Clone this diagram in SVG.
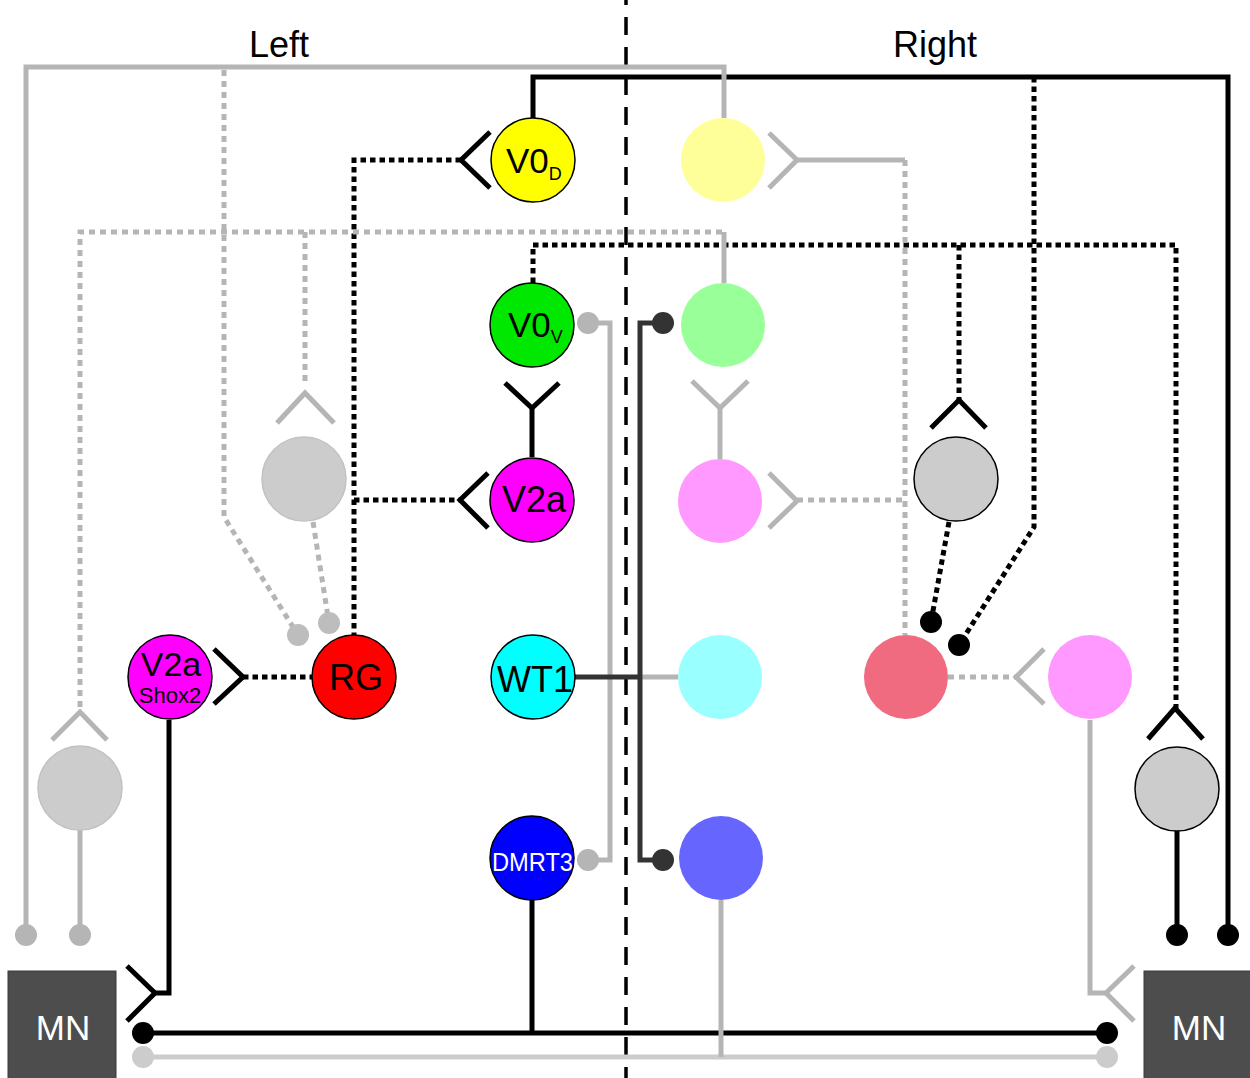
<svg xmlns="http://www.w3.org/2000/svg" width="1250" height="1078" viewBox="0 0 1250 1078">
  <style>
    .lbl { font-family: "Liberation Sans", Arial, sans-serif; fill: #000; }
    .side { font-size: 36px; text-anchor: middle; }
    .nm { font-size: 36px; text-anchor: middle; }
    .wt { fill: #fff; }
    .bk { stroke: #000; stroke-width: 5; fill: none; }
    .dk { stroke: #333; stroke-width: 5; fill: none; }
    .gr { stroke: #b5b5b5; stroke-width: 5; fill: none; }
    .lg { stroke: #cccccc; stroke-width: 5; fill: none; }
    .bkd { stroke: #000; stroke-width: 5; fill: none; stroke-dasharray: 5.5 4; }
    .grd { stroke: #b5b5b5; stroke-width: 5; fill: none; stroke-dasharray: 6 5; }
    .mid { stroke: #000; stroke-width: 3.5; fill: none; stroke-dasharray: 18 12; }
    .dotb { fill: #000; }
    .dotk { fill: #333; }
    .dotg { fill: #b5b5b5; }
    .dotl { fill: #cccccc; }
    .dotr { fill: #bdbdbd; }
    .cell { stroke: #000; stroke-width: 1.5; }
    .pale { stroke: none; }
    .mn { fill: #4d4d4d; stroke: #3a3a3a; stroke-width: 1; }
  </style>

  <!-- side headings and midline -->
  <text class="lbl side" x="279" y="57">Left</text>
  <text class="lbl side" x="935" y="57">Right</text>
  <line class="mid" x1="626" y1="-13" x2="626" y2="1078"/>

  <g id="connectors">
    <!-- light grey bottom bus -->
    <path class="lg" d="M143,1057 H1107"/>
    <circle class="dotl" cx="143" cy="1057" r="11"/>
    <circle class="dotl" cx="1107" cy="1057" r="11"/>

    <!-- black solid projections -->
    <path class="bk" d="M533,118 V77 H1228 V935"/>
    <circle class="dotb" cx="1228" cy="935" r="11"/>
    <path class="bk" d="M1177,830 V935"/>
    <circle class="dotb" cx="1177" cy="935" r="11"/>
    <path class="bk" d="M169,720 V993 H155"/>
    <polyline class="bk" points="127,966 155,993 127,1021"/>
    <path class="bk" d="M143,1033 H1107"/>
    <circle class="dotb" cx="143" cy="1033" r="11"/>
    <circle class="dotb" cx="1107" cy="1033" r="11"/>
    <path class="bk" d="M532,900 V1033"/>
    <polyline class="bk" points="505,383 532,408 559,383"/>
    <path class="bk" d="M532,408 V457"/>
    <polyline class="bk" points="490,132 461,160 490,188"/>
    <polyline class="bk" points="488,473 460,500 488,528"/>
    <polyline class="bk" points="214,649 243,677 214,704"/>
    <polyline class="bk" points="931,428 959,400 986,428"/>
    <polyline class="bk" points="1148,739 1175,708 1203,739"/>

    <!-- black dotted projections -->
    <path class="bkd" d="M461,160 H354 V635"/>
    <path class="bkd" d="M354,500 H460"/>
    <path class="bkd" d="M243,677 H312"/>
    <path class="bkd" d="M533,283 V245 H1176 V708"/>
    <path class="bkd" d="M959,245 V400"/>
    <path class="bkd" d="M1034,77 V527 L959,645"/>
    <circle class="dotb" cx="959" cy="645" r="11"/>
    <path class="bkd" d="M949,522 L931,622"/>
    <circle class="dotb" cx="931" cy="622" r="11"/>

    <!-- grey solid projections -->
    <path class="gr" d="M26,935 V67 H724 V118"/>
    <circle class="dotg" cx="26" cy="935" r="11"/>
    <path class="gr" d="M80,830 V935"/>
    <circle class="dotg" cx="80" cy="935" r="11"/>
    <polyline class="gr" points="52,740 80,712 107,740"/>
    <polyline class="gr" points="277,423 305,393 334,423"/>
    <path class="gr" d="M724,232 V283"/>
    <polyline class="gr" points="769,133 797,160 769,188"/>
    <path class="gr" d="M797,160 H905"/>
    <polyline class="gr" points="692,381 720,408 748,381"/>
    <path class="gr" d="M720,408 V459"/>
    <polyline class="gr" points="769,473 797,501 769,528"/>
    <polyline class="gr" points="1044,649 1016,677 1044,704"/>
    <path class="gr" d="M1090,720 V993 H1106"/>
    <polyline class="gr" points="1134,966 1106,993 1134,1021"/>
    <path class="gr" d="M588,323 H610 V860 H588"/>
    <circle class="dotg" cx="588" cy="323" r="11"/>
    <circle class="dotg" cx="588" cy="860" r="11"/>
    <path class="gr" d="M640,677 H678"/>
    <path class="gr" d="M721,900 V1057"/>

    <!-- grey dotted projections -->
    <path class="grd" d="M224,70 V517 L298,635"/>
    <circle class="dotr" cx="298" cy="635" r="11"/>
    <path class="grd" d="M313,522 L329,623"/>
    <circle class="dotr" cx="329" cy="623" r="11"/>
    <path class="grd" d="M80,707 V232 H724"/>
    <path class="grd" d="M305,232 V385"/>
    <path class="grd" d="M905,160 V635"/>
    <path class="grd" d="M797,500 H906"/>
    <path class="grd" d="M948,677 H1016"/>

    <!-- WT1 commissural bracket -->
    <path class="dk" d="M663,323 H640 V860 H663"/>
    <circle class="dotk" cx="663" cy="323" r="11"/>
    <circle class="dotk" cx="663" cy="860" r="11"/>
    <path class="dk" d="M575,677 H640"/>
  </g>

  <!-- left side populations -->
  <g id="v0d">
    <circle class="cell" cx="533" cy="160" r="42" fill="#ffff00"/>
    <text class="lbl" x="506" y="173" font-size="35">V0<tspan font-size="18" dy="7">D</tspan></text>
  </g>
  <g id="v0v">
    <circle class="cell" cx="532" cy="325" r="42" fill="#00e800"/>
    <text class="lbl" x="508" y="337" font-size="35">V0<tspan font-size="18" dy="6">V</tspan></text>
  </g>
  <g id="v2a">
    <circle class="cell" cx="532" cy="500" r="42" fill="#ff00ff"/>
    <text class="lbl nm" x="534" y="512">V2a</text>
  </g>
  <g id="wt1">
    <circle class="cell" cx="533" cy="677" r="42" fill="#00ffff"/>
    <text class="lbl nm" x="535" y="692" font-size="35">WT1</text>
  </g>
  <g id="dmrt3">
    <circle class="cell" cx="532" cy="858" r="42" fill="#0000ff"/>
    <text class="lbl wt" x="492" y="871" font-size="26" textLength="81" lengthAdjust="spacingAndGlyphs">DMRT3</text>
  </g>
  <g id="rg">
    <circle class="cell" cx="354" cy="677" r="42" fill="#ff0000"/>
    <text class="lbl nm" x="356" y="690">RG</text>
  </g>
  <g id="v2a-shox2">
    <circle class="cell" cx="170" cy="677" r="42" fill="#ff00ff"/>
    <text class="lbl" x="171" y="676" font-size="34" text-anchor="middle">V2a</text>
    <text class="lbl" x="170" y="703" font-size="22" text-anchor="middle">Shox2</text>
  </g>
  <g id="inter-left-upper">
    <circle cx="304" cy="479" r="42" fill="#cccccc" stroke="#c2c2c2" stroke-width="1.5"/>
  </g>
  <g id="inter-left-lower">
    <circle cx="80" cy="788" r="42" fill="#cccccc" stroke="#c2c2c2" stroke-width="1.5"/>
  </g>
  <g id="mn-left">
    <rect class="mn" x="8" y="971" width="108" height="110"/>
    <text class="lbl wt" x="63" y="1040" font-size="35" text-anchor="middle">MN</text>
  </g>

  <!-- right side populations -->
  <g id="v0d-r">
    <circle class="pale" cx="723" cy="160" r="42" fill="#ffff99"/>
  </g>
  <g id="v0v-r">
    <circle class="pale" cx="723" cy="325" r="42" fill="#99ff99"/>
  </g>
  <g id="v2a-r">
    <circle class="pale" cx="720" cy="501" r="42" fill="#ff99ff"/>
  </g>
  <g id="wt1-r">
    <circle class="pale" cx="720" cy="677" r="42" fill="#99ffff"/>
  </g>
  <g id="dmrt3-r">
    <circle class="pale" cx="721" cy="858" r="42" fill="#6666ff"/>
  </g>
  <g id="rg-r">
    <circle class="pale" cx="906" cy="677" r="42" fill="#f06a80"/>
  </g>
  <g id="v2a-shox2-r">
    <circle class="pale" cx="1090" cy="677" r="42" fill="#ff99ff"/>
  </g>
  <g id="inter-right-upper">
    <circle class="cell" cx="956" cy="479" r="42" fill="#cccccc" stroke-width="1.2"/>
  </g>
  <g id="inter-right-lower">
    <circle class="cell" cx="1177" cy="789" r="42" fill="#cccccc" stroke-width="1.2"/>
  </g>
  <g id="mn-right">
    <rect class="mn" x="1144" y="971" width="110" height="110"/>
    <text class="lbl wt" x="1199" y="1040" font-size="35" text-anchor="middle">MN</text>
  </g>
</svg>
